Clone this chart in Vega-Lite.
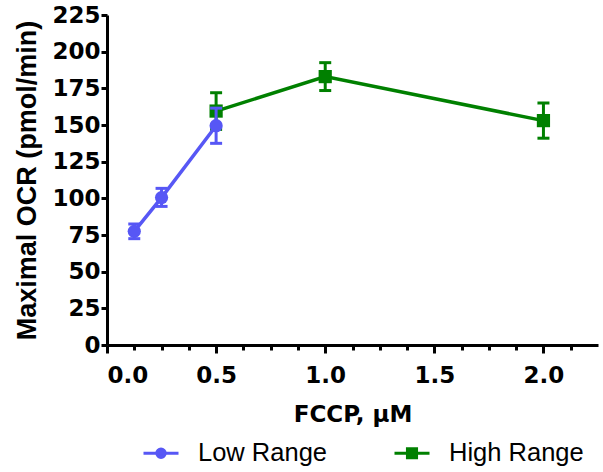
{
  "$schema": "https://vega.github.io/schema/vega-lite/v6.json",
  "autosize": "none",
  "width": 491,
  "height": 330,
  "padding": {"left": 107, "top": 15, "right": 5, "bottom": 127},
  "background": "white",
  "config": {
    "view": {"stroke": null},
    "axis": {"grid": false, "domainColor": "black", "domainWidth": 3, "tickColor": "black", "tickWidth": 3, "labelColor": "black", "titleColor": "black"}
  },
  "data": {"values": [
    {"series": "High Range", "conc": 0.5, "ocr": 159.5, "lo": 147, "hi": 172},
    {"series": "High Range", "conc": 1.0, "ocr": 183, "lo": 173.5, "hi": 192.5},
    {"series": "High Range", "conc": 2.0, "ocr": 153, "lo": 141, "hi": 165},
    {"series": "Low Range", "conc": 0.125, "ocr": 77.5, "lo": 72.5, "hi": 82.5},
    {"series": "Low Range", "conc": 0.25, "ocr": 100.5, "lo": 94.5, "hi": 106.8},
    {"series": "Low Range", "conc": 0.5, "ocr": 149.5, "lo": 137.5, "hi": 161.5}
  ]},
  "resolve": {"axis": {"x": "independent"}},
  "layer": [
    {
      "mark": {"type": "point", "opacity": 0},
      "encoding": {
        "x": {"field": "conc", "type": "quantitative", "scale": {"domain": [0, 2.25], "nice": false, "zero": false},
          "axis": {"orient": "bottom", "values": [0.125, 0.25, 0.375, 0.625, 0.75, 0.875, 1.125, 1.25, 1.375, 1.625, 1.75, 1.875, 2.125], "labels": false, "domain": false, "tickSize": 5, "title": null}}
      }
    },
    {
      "layer": [
        {
          "transform": [{"filter": "datum.series === 'High Range'"}],
          "layer": [
            {"mark": {"type": "errorbar", "ticks": {"size": 12, "thickness": 3, "opacity": 1, "color": "#008000"}, "rule": {"strokeWidth": 3, "opacity": 1, "color": "#008000"}, "thickness": 3, "color": "#008000", "opacity": 1},
             "encoding": {"x": {"field": "conc", "type": "quantitative"}, "y": {"field": "lo", "type": "quantitative"}, "y2": {"field": "hi"}}},
            {"mark": {"type": "line", "strokeWidth": 3.5},
             "encoding": {"x": {"field": "conc", "type": "quantitative"}, "y": {"field": "ocr", "type": "quantitative"}, "color": {"field": "series", "type": "nominal"}}},
            {"mark": {"type": "point", "shape": "square", "filled": true, "opacity": 1, "size": 175},
             "encoding": {"x": {"field": "conc", "type": "quantitative"}, "y": {"field": "ocr", "type": "quantitative"}, "color": {"field": "series", "type": "nominal"}}}
          ]
        },
        {
          "transform": [{"filter": "datum.series === 'Low Range'"}],
          "layer": [
            {"mark": {"type": "errorbar", "ticks": {"size": 12, "thickness": 3, "opacity": 1, "color": "#5757F5"}, "rule": {"strokeWidth": 3, "opacity": 1, "color": "#5757F5"}, "thickness": 3, "color": "#5757F5", "opacity": 1},
             "encoding": {"x": {"field": "conc", "type": "quantitative"}, "y": {"field": "lo", "type": "quantitative"}, "y2": {"field": "hi"}}},
            {"mark": {"type": "line", "strokeWidth": 3.5},
             "encoding": {"x": {"field": "conc", "type": "quantitative"}, "y": {"field": "ocr", "type": "quantitative"}, "color": {"field": "series", "type": "nominal"}}},
            {"mark": {"type": "point", "shape": "circle", "filled": true, "opacity": 1, "size": 175},
             "encoding": {"x": {"field": "conc", "type": "quantitative"}, "y": {"field": "ocr", "type": "quantitative"}, "color": {"field": "series", "type": "nominal"}}}
          ]
        }
      ],
      "encoding": {
        "x": {"field": "conc", "type": "quantitative", "scale": {"domain": [0, 2.25], "nice": false, "zero": false},
          "axis": {"orient": "bottom", "values": [0, 0.5, 1, 1.5, 2], "format": ".1f", "tickSize": 8, "labelFont": "DejaVu Sans", "labelFontWeight": "bold", "labelFontSize": 23, "labelPadding": 11,
            "title": "FCCP, μM", "titleFont": "DejaVu Sans", "titleFontWeight": "bold", "titleFontSize": 23, "titlePadding": 16}},
        "y": {"type": "quantitative", "scale": {"domain": [0, 225], "nice": false},
          "axis": {"values": [0, 25, 50, 75, 100, 125, 150, 175, 200, 225], "tickSize": 6, "labelFont": "DejaVu Sans", "labelFontWeight": "bold", "labelFontSize": 23, "labelPadding": 1,
            "title": "Maximal OCR (pmol/min)", "titleFont": "Liberation Sans", "titleFontWeight": "bold", "titleFontSize": 27, "titlePadding": 10}},
        "color": {"field": "series", "type": "nominal",
          "scale": {"domain": ["Low Range", "High Range"], "range": ["#5757F5", "#008000"]},
          "legend": {"title": null, "orient": "none", "legendX": 35, "legendY": 419, "direction": "horizontal", "padding": 0,
            "symbolSize": 1225, "symbolStrokeWidth": 3, "labelFont": "Liberation Sans", "labelFontSize": 25.5, "labelColor": "black", "labelOffset": 18, "columnPadding": 60,
            "encode": {"symbols": {"update": {
              "shape": {"signal": "datum.value === 'Low Range' ? 'M-1,0H1M0.24,0A0.24,0.24 0 1,1 -0.24,0A0.24,0.24 0 1,1 0.24,0Z' : 'M-1,0H1M-0.26,-0.26H0.26V0.26H-0.26Z'"},
              "fill": {"signal": "datum.value === 'Low Range' ? '#5757F5' : '#008000'"},
              "stroke": {"signal": "datum.value === 'Low Range' ? '#5757F5' : '#008000'"},
              "strokeWidth": {"value": 3},
              "opacity": {"value": 1}, "fillOpacity": {"value": 1}, "strokeOpacity": {"value": 1}
            }}}}
        }
      }
    }
  ]
}
